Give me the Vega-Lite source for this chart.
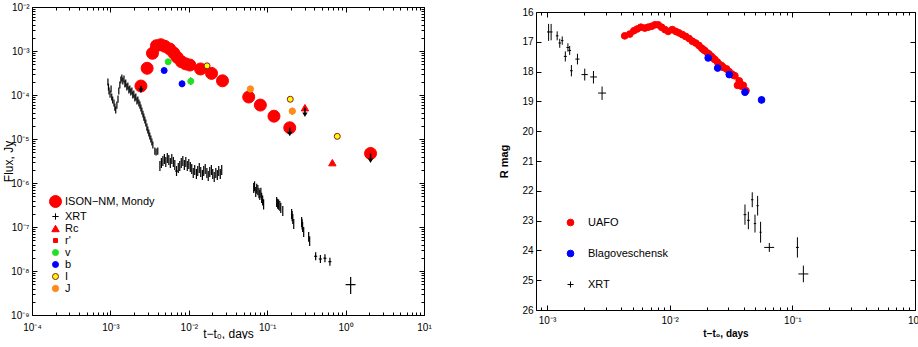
{
"$schema": "https://vega.github.io/schema/vega-lite/v6.json",
"padding": {"left": 2, "top": 2, "right": 0, "bottom": 0},
"bounds": "flush",
"center": true,
"spacing": 112,
"resolve": {"scale": {"shape": "independent", "fill": "independent", "stroke": "independent", "size": "independent"}, "legend": {"shape": "independent", "fill": "independent", "stroke": "independent", "size": "independent"}},
"config": {
  "view": {"stroke": null},
  "font": "Liberation Sans",
  "axis": {"grid": false, "domainColor": "#000", "domainWidth": 1, "tickColor": "#000", "tickWidth": 1, "labelColor": "#000", "labelFont": "Liberation Sans", "labelFontSize": 10, "titleColor": "#000", "titleFont": "Liberation Sans", "titleFontWeight": "normal", "titleFontSize": 12, "labelOverlap": false, "labelFlush": false, "labelBound": false},
  "legend": {"labelFont": "Liberation Sans", "labelColor": "#000", "symbolStrokeWidth": 1}
},
"datasets": {
  "xrtL": [
    {"t": 0.00093, "f": 0.000197, "lo": 0.000164, "hi": 0.000236},
    {"t": 0.000945, "f": 0.000152, "lo": 0.000126, "hi": 0.000182},
    {"t": 0.00096, "f": 0.000123, "lo": 0.000102, "hi": 0.000148},
    {"t": 0.00099, "f": 0.000105, "lo": 0.000087, "hi": 0.000126},
    {"t": 0.00102, "f": 0.000137, "lo": 0.000114, "hi": 0.000164},
    {"t": 0.00104, "f": 0.00009, "lo": 0.000075, "hi": 0.000108},
    {"t": 0.00107, "f": 0.000077, "lo": 0.000064, "hi": 0.000092},
    {"t": 0.00111, "f": 0.000066, "lo": 0.000055, "hi": 0.000079},
    {"t": 0.00114, "f": 0.000053, "lo": 0.000044, "hi": 0.000064},
    {"t": 0.00117, "f": 0.000046, "lo": 0.000038, "hi": 0.000055},
    {"t": 0.00121, "f": 0.000059, "lo": 0.000049, "hi": 0.000071},
    {"t": 0.00125, "f": 0.000081, "lo": 0.000067, "hi": 0.000097},
    {"t": 0.00128, "f": 0.000123, "lo": 0.000102, "hi": 0.000148},
    {"t": 0.00132, "f": 0.000169, "lo": 0.00014, "hi": 0.000203},
    {"t": 0.00136, "f": 0.000219, "lo": 0.000182, "hi": 0.000263},
    {"t": 0.0014, "f": 0.000243, "lo": 0.000202, "hi": 0.000292},
    {"t": 0.00144, "f": 0.000208, "lo": 0.000173, "hi": 0.00025},
    {"t": 0.00149, "f": 0.000231, "lo": 0.000192, "hi": 0.000277},
    {"t": 0.00153, "f": 0.000178, "lo": 0.000148, "hi": 0.000214},
    {"t": 0.00157, "f": 0.000187, "lo": 0.000155, "hi": 0.000224},
    {"t": 0.00162, "f": 0.000152, "lo": 0.000126, "hi": 0.000182},
    {"t": 0.00167, "f": 0.00016, "lo": 0.000133, "hi": 0.000192},
    {"t": 0.00172, "f": 0.00013, "lo": 0.000108, "hi": 0.000156},
    {"t": 0.00177, "f": 0.000137, "lo": 0.000114, "hi": 0.000164},
    {"t": 0.00182, "f": 0.000117, "lo": 0.000097, "hi": 0.00014},
    {"t": 0.00188, "f": 0.000123, "lo": 0.000102, "hi": 0.000148},
    {"t": 0.00193, "f": 0.0001, "lo": 0.000083, "hi": 0.00012},
    {"t": 0.00199, "f": 0.000105, "lo": 0.000087, "hi": 0.000126},
    {"t": 0.00205, "f": 0.0000855, "lo": 0.000071, "hi": 0.000103},
    {"t": 0.00211, "f": 0.00009, "lo": 0.000075, "hi": 0.000108},
    {"t": 0.00218, "f": 0.000073, "lo": 0.000061, "hi": 0.000088},
    {"t": 0.00224, "f": 0.000077, "lo": 0.000064, "hi": 0.000092},
    {"t": 0.00231, "f": 0.000066, "lo": 0.000055, "hi": 0.000079},
    {"t": 0.00238, "f": 0.000059, "lo": 0.000049, "hi": 0.000071},
    {"t": 0.00245, "f": 0.0000507, "lo": 0.000042, "hi": 0.000061},
    {"t": 0.00252, "f": 0.0000433, "lo": 0.000036, "hi": 0.000052},
    {"t": 0.0026, "f": 0.000037, "lo": 0.000031, "hi": 0.000044},
    {"t": 0.00267, "f": 0.0000316, "lo": 0.000026, "hi": 0.000038},
    {"t": 0.00275, "f": 0.000027, "lo": 0.0000224, "hi": 0.0000324},
    {"t": 0.00283, "f": 0.0000231, "lo": 0.0000192, "hi": 0.0000277},
    {"t": 0.00292, "f": 0.0000187, "lo": 0.0000155, "hi": 0.0000224},
    {"t": 0.003, "f": 0.000016, "lo": 0.0000133, "hi": 0.0000192},
    {"t": 0.00309, "f": 0.0000137, "lo": 0.0000114, "hi": 0.0000164},
    {"t": 0.00318, "f": 0.0000117, "lo": 0.0000097, "hi": 0.000014},
    {"t": 0.00328, "f": 0.00001, "lo": 0.0000083, "hi": 0.000012},
    {"t": 0.00338, "f": 0.0000085, "lo": 0.0000071, "hi": 0.0000102},
    {"t": 0.00348, "f": 0.0000073, "lo": 0.0000061, "hi": 0.0000088},
    {"t": 0.00369, "f": 0.0000053, "lo": 0.0000044, "hi": 0.0000064},
    {"t": 0.00383, "f": 0.0000051, "lo": 0.0000042, "hi": 0.0000061},
    {"t": 0.00402, "f": 0.0000053, "lo": 0.0000044, "hi": 0.0000064},
    {"t": 0.00428, "f": 0.00000243, "lo": 0.00000187, "hi": 0.00000316},
    {"t": 0.00447, "f": 0.00000285, "lo": 0.00000219, "hi": 0.0000037},
    {"t": 0.00467, "f": 0.00000316, "lo": 0.00000243, "hi": 0.0000041},
    {"t": 0.00488, "f": 0.0000035, "lo": 0.0000027, "hi": 0.00000455},
    {"t": 0.00509, "f": 0.000003, "lo": 0.00000231, "hi": 0.0000039},
    {"t": 0.00532, "f": 0.0000037, "lo": 0.00000285, "hi": 0.0000048},
    {"t": 0.00556, "f": 0.00000333, "lo": 0.00000256, "hi": 0.00000433},
    {"t": 0.00581, "f": 0.00000285, "lo": 0.00000219, "hi": 0.0000037},
    {"t": 0.00607, "f": 0.0000035, "lo": 0.0000027, "hi": 0.00000455},
    {"t": 0.00635, "f": 0.000003, "lo": 0.00000231, "hi": 0.0000039},
    {"t": 0.00663, "f": 0.00000256, "lo": 0.00000197, "hi": 0.00000333},
    {"t": 0.00697, "f": 0.00000187, "lo": 0.00000144, "hi": 0.00000243, "tl": 0.00665, "th": 0.0073},
    {"t": 0.00734, "f": 0.00000219, "lo": 0.00000169, "hi": 0.00000285},
    {"t": 0.00767, "f": 0.00000243, "lo": 0.00000187, "hi": 0.00000316},
    {"t": 0.00801, "f": 0.00000285, "lo": 0.00000219, "hi": 0.0000037},
    {"t": 0.00839, "f": 0.00000316, "lo": 0.00000243, "hi": 0.0000041},
    {"t": 0.00877, "f": 0.00000256, "lo": 0.00000197, "hi": 0.00000333},
    {"t": 0.00916, "f": 0.000003, "lo": 0.00000231, "hi": 0.0000039},
    {"t": 0.00957, "f": 0.00000243, "lo": 0.00000187, "hi": 0.00000316},
    {"t": 0.01, "f": 0.0000027, "lo": 0.00000208, "hi": 0.0000035},
    {"t": 0.01045, "f": 0.00000231, "lo": 0.00000178, "hi": 0.000003},
    {"t": 0.0109, "f": 0.00000208, "lo": 0.0000016, "hi": 0.0000027},
    {"t": 0.0114, "f": 0.00000169, "lo": 0.0000013, "hi": 0.0000022},
    {"t": 0.0119, "f": 0.00000197, "lo": 0.00000152, "hi": 0.00000256},
    {"t": 0.0125, "f": 0.0000016, "lo": 0.00000123, "hi": 0.00000208},
    {"t": 0.013, "f": 0.00000187, "lo": 0.00000144, "hi": 0.00000243},
    {"t": 0.0136, "f": 0.00000219, "lo": 0.00000169, "hi": 0.00000285},
    {"t": 0.0142, "f": 0.00000178, "lo": 0.00000137, "hi": 0.00000231},
    {"t": 0.0149, "f": 0.00000152, "lo": 0.00000117, "hi": 0.00000197},
    {"t": 0.0155, "f": 0.00000187, "lo": 0.00000144, "hi": 0.00000243},
    {"t": 0.0162, "f": 0.00000208, "lo": 0.0000016, "hi": 0.0000027},
    {"t": 0.017, "f": 0.00000169, "lo": 0.0000013, "hi": 0.0000022},
    {"t": 0.0177, "f": 0.00000144, "lo": 0.00000111, "hi": 0.00000187},
    {"t": 0.0185, "f": 0.00000178, "lo": 0.00000137, "hi": 0.00000231},
    {"t": 0.0194, "f": 0.00000197, "lo": 0.00000152, "hi": 0.00000256},
    {"t": 0.0202, "f": 0.0000016, "lo": 0.00000123, "hi": 0.00000208},
    {"t": 0.0211, "f": 0.00000137, "lo": 0.00000105, "hi": 0.00000178},
    {"t": 0.0221, "f": 0.00000169, "lo": 0.0000013, "hi": 0.0000022},
    {"t": 0.0231, "f": 0.00000152, "lo": 0.00000117, "hi": 0.00000197},
    {"t": 0.0241, "f": 0.00000187, "lo": 0.00000144, "hi": 0.00000243},
    {"t": 0.0252, "f": 0.0000016, "lo": 0.00000123, "hi": 0.00000208},
    {"t": 0.0263, "f": 0.00000197, "lo": 0.00000152, "hi": 0.00000256},
    {"t": 0.0673, "f": 0.00000077, "lo": 0.00000059, "hi": 0.000001},
    {"t": 0.069, "f": 0.00000084, "lo": 0.00000065, "hi": 0.00000109},
    {"t": 0.0714, "f": 0.00000062, "lo": 0.00000048, "hi": 0.00000081},
    {"t": 0.0735, "f": 0.00000074, "lo": 0.00000057, "hi": 0.00000096},
    {"t": 0.076, "f": 0.00000069, "lo": 0.00000053, "hi": 0.0000009},
    {"t": 0.0785, "f": 0.00000059, "lo": 0.00000045, "hi": 0.00000077},
    {"t": 0.0805, "f": 0.00000053, "lo": 0.00000041, "hi": 0.00000069},
    {"t": 0.083, "f": 0.0000006, "lo": 0.00000046, "hi": 0.00000078},
    {"t": 0.085, "f": 0.00000046, "lo": 0.00000035, "hi": 0.0000006},
    {"t": 0.0875, "f": 0.0000004, "lo": 0.00000031, "hi": 0.00000052},
    {"t": 0.09, "f": 0.00000033, "lo": 0.00000025, "hi": 0.00000043},
    {"t": 0.132, "f": 0.00000037, "lo": 0.000000285, "hi": 0.00000048},
    {"t": 0.136, "f": 0.00000034, "lo": 0.00000026, "hi": 0.00000044},
    {"t": 0.14, "f": 0.00000032, "lo": 0.000000246, "hi": 0.00000042},
    {"t": 0.145, "f": 0.0000003, "lo": 0.00000023, "hi": 0.00000039},
    {"t": 0.149, "f": 0.00000027, "lo": 0.000000208, "hi": 0.00000035},
    {"t": 0.158, "f": 0.00000023, "lo": 0.000000177, "hi": 0.0000003},
    {"t": 0.205, "f": 0.000000197, "lo": 0.000000152, "hi": 0.000000256},
    {"t": 0.208, "f": 0.000000175, "lo": 0.000000135, "hi": 0.00000023},
    {"t": 0.212, "f": 0.000000152, "lo": 0.000000117, "hi": 0.000000198},
    {"t": 0.218, "f": 0.000000117, "lo": 0.00000009, "hi": 0.000000152},
    {"t": 0.275, "f": 0.00000013, "lo": 0.0000001, "hi": 0.000000169},
    {"t": 0.279, "f": 0.000000115, "lo": 0.000000088, "hi": 0.00000015},
    {"t": 0.283, "f": 0.0000001, "lo": 0.000000077, "hi": 0.00000013},
    {"t": 0.292, "f": 0.000000077, "lo": 0.000000059, "hi": 0.0000001},
    {"t": 0.338, "f": 0.000000059, "lo": 0.000000046, "hi": 0.000000077},
    {"t": 0.348, "f": 0.000000048, "lo": 0.000000037, "hi": 0.000000062},
    {"t": 0.415, "f": 0.0000000216, "lo": 0.0000000175, "hi": 0.0000000266, "tl": 0.397, "th": 0.434},
    {"t": 0.477, "f": 0.0000000187, "lo": 0.0000000152, "hi": 0.000000023, "tl": 0.456, "th": 0.498},
    {"t": 0.545, "f": 0.0000000195, "lo": 0.0000000158, "hi": 0.000000024, "tl": 0.521, "th": 0.569},
    {"t": 0.631, "f": 0.0000000163, "lo": 0.0000000132, "hi": 0.00000002, "tl": 0.603, "th": 0.659},
    {"t": 1.16, "f": 0.0000000049, "lo": 0.000000003, "hi": 0.0000000073, "tl": 1.0, "th": 1.34}
  ],
  "optL": [
    {"t": 0.00245, "f": 0.00016, "s": "ISON−NM, Mondy"},
    {"t": 0.00294, "f": 0.000405, "s": "ISON−NM, Mondy"},
    {"t": 0.00344, "f": 0.000887, "s": "ISON−NM, Mondy"},
    {"t": 0.00387, "f": 0.00132, "s": "ISON−NM, Mondy"},
    {"t": 0.0044, "f": 0.00139, "s": "ISON−NM, Mondy"},
    {"t": 0.00494, "f": 0.00128, "s": "ISON−NM, Mondy"},
    {"t": 0.00572, "f": 0.00111, "s": "ISON−NM, Mondy"},
    {"t": 0.00644, "f": 0.0009, "s": "ISON−NM, Mondy"},
    {"t": 0.0071, "f": 0.00072, "s": "ISON−NM, Mondy"},
    {"t": 0.00807, "f": 0.00057, "s": "ISON−NM, Mondy"},
    {"t": 0.0091, "f": 0.00051, "s": "ISON−NM, Mondy"},
    {"t": 0.0103, "f": 0.00048, "s": "ISON−NM, Mondy"},
    {"t": 0.0141, "f": 0.00039, "s": "ISON−NM, Mondy"},
    {"t": 0.0195, "f": 0.00031, "s": "ISON−NM, Mondy"},
    {"t": 0.0269, "f": 0.00021, "s": "ISON−NM, Mondy"},
    {"t": 0.0581, "f": 0.00009, "s": "ISON−NM, Mondy"},
    {"t": 0.0818, "f": 0.000059, "s": "ISON−NM, Mondy"},
    {"t": 0.122, "f": 0.000033, "s": "ISON−NM, Mondy"},
    {"t": 0.194, "f": 0.000018, "s": "ISON−NM, Mondy"},
    {"t": 2.08, "f": 0.0000047, "s": "ISON−NM, Mondy"},
    {"t": 0.303, "f": 0.0000515, "s": "Rc"},
    {"t": 0.678, "f": 0.0000029, "s": "Rc"},
    {"t": 0.00546, "f": 0.00057, "s": "v"},
    {"t": 0.0106, "f": 0.000205, "s": "v"},
    {"t": 0.00485, "f": 0.00036, "s": "b"},
    {"t": 0.0082, "f": 0.00018, "s": "b"},
    {"t": 0.061, "f": 0.000137, "s": "J"},
    {"t": 0.209, "f": 0.000043, "s": "J"},
    {"t": 0.0171, "f": 0.00046, "s": "I"},
    {"t": 0.197, "f": 0.00008, "s": "I"},
    {"t": 0.783, "f": 0.0000115, "s": "I"}
  ],
  "errL": [
    {"t": 0.0106, "lo": 0.00017, "hi": 0.00025},
    {"t": 0.0082, "lo": 0.00015, "hi": 0.00021},
    {"t": 0.209, "lo": 0.000036, "hi": 0.000051}
  ],
  "limL": [
    {"t": 0.00245, "f": 0.00016, "fa": 0.000125},
    {"t": 0.194, "f": 0.000018, "fa": 0.000013},
    {"t": 2.08, "f": 0.0000047, "fa": 0.0000032},
    {"t": 0.303, "f": 0.0000515, "fa": 0.0000356}
  ],
  "xrtR": [
    {"t": 0.00103, "m": 16.67, "lo": 16.4, "hi": 16.97, "tl": 0.001, "th": 0.00106},
    {"t": 0.00108, "m": 16.67, "lo": 16.4, "hi": 16.95, "tl": 0.00105, "th": 0.00111},
    {"t": 0.00121, "m": 16.8, "lo": 16.65, "hi": 16.95, "tl": 0.00118, "th": 0.00124},
    {"t": 0.00127, "m": 17.04, "lo": 16.9, "hi": 17.2, "tl": 0.00124, "th": 0.0013},
    {"t": 0.00133, "m": 16.96, "lo": 16.82, "hi": 17.1, "tl": 0.0013, "th": 0.00136},
    {"t": 0.00141, "m": 17.49, "lo": 17.32, "hi": 17.66, "tl": 0.00137, "th": 0.00145},
    {"t": 0.00148, "m": 17.19, "lo": 17.05, "hi": 17.33, "tl": 0.00144, "th": 0.00152},
    {"t": 0.00153, "m": 17.29, "lo": 17.14, "hi": 17.44, "tl": 0.00149, "th": 0.00157},
    {"t": 0.00158, "m": 17.97, "lo": 17.78, "hi": 18.16, "tl": 0.00154, "th": 0.00162},
    {"t": 0.00177, "m": 17.58, "lo": 17.4, "hi": 17.76, "tl": 0.0017, "th": 0.00184},
    {"t": 0.00203, "m": 18.1, "lo": 17.9, "hi": 18.3, "tl": 0.00191, "th": 0.00215},
    {"t": 0.00239, "m": 18.18, "lo": 17.98, "hi": 18.4, "tl": 0.00225, "th": 0.00255},
    {"t": 0.00281, "m": 18.72, "lo": 18.5, "hi": 18.95, "tl": 0.00261, "th": 0.00303},
    {"t": 0.0411, "m": 22.8, "lo": 22.46, "hi": 23.14, "tl": 0.04, "th": 0.0422},
    {"t": 0.0438, "m": 22.99, "lo": 22.7, "hi": 23.29, "tl": 0.0427, "th": 0.045},
    {"t": 0.0471, "m": 22.3, "lo": 22.05, "hi": 22.55, "tl": 0.046, "th": 0.0482},
    {"t": 0.0496, "m": 23.1, "lo": 22.8, "hi": 23.4, "tl": 0.0485, "th": 0.0507},
    {"t": 0.0521, "m": 22.5, "lo": 22.17, "hi": 22.83, "tl": 0.051, "th": 0.0532},
    {"t": 0.0551, "m": 23.39, "lo": 23.04, "hi": 23.74, "tl": 0.054, "th": 0.0562},
    {"t": 0.0649, "m": 23.9, "lo": 23.75, "hi": 24.05, "tl": 0.059, "th": 0.071},
    {"t": 0.11, "m": 23.9, "lo": 23.56, "hi": 24.24, "tl": 0.107, "th": 0.113},
    {"t": 0.123, "m": 24.79, "lo": 24.51, "hi": 25.07, "tl": 0.112, "th": 0.135}
  ],
  "optR": [
    {"t": 0.0043, "m": 16.8, "s": "UAFO"},
    {"t": 0.00473, "m": 16.74, "s": "UAFO"},
    {"t": 0.0051, "m": 16.63, "s": "UAFO"},
    {"t": 0.00543, "m": 16.57, "s": "UAFO"},
    {"t": 0.00582, "m": 16.51, "s": "UAFO"},
    {"t": 0.00627, "m": 16.54, "s": "UAFO"},
    {"t": 0.00667, "m": 16.51, "s": "UAFO"},
    {"t": 0.00711, "m": 16.48, "s": "UAFO"},
    {"t": 0.00757, "m": 16.43, "s": "UAFO"},
    {"t": 0.00806, "m": 16.43, "s": "UAFO"},
    {"t": 0.00858, "m": 16.51, "s": "UAFO"},
    {"t": 0.00914, "m": 16.59, "s": "UAFO"},
    {"t": 0.00973, "m": 16.65, "s": "UAFO"},
    {"t": 0.0105, "m": 16.59, "s": "UAFO"},
    {"t": 0.0112, "m": 16.65, "s": "UAFO"},
    {"t": 0.0119, "m": 16.7, "s": "UAFO"},
    {"t": 0.0127, "m": 16.76, "s": "UAFO"},
    {"t": 0.0135, "m": 16.82, "s": "UAFO"},
    {"t": 0.0144, "m": 16.89, "s": "UAFO"},
    {"t": 0.0153, "m": 16.98, "s": "UAFO"},
    {"t": 0.0163, "m": 17.04, "s": "UAFO"},
    {"t": 0.0173, "m": 17.12, "s": "UAFO"},
    {"t": 0.0182, "m": 17.21, "s": "UAFO"},
    {"t": 0.0188, "m": 17.26, "s": "UAFO"},
    {"t": 0.0194, "m": 17.3, "s": "UAFO"},
    {"t": 0.0204, "m": 17.38, "s": "UAFO"},
    {"t": 0.021, "m": 17.42, "s": "UAFO"},
    {"t": 0.0219, "m": 17.49, "s": "UAFO"},
    {"t": 0.0226, "m": 17.55, "s": "UAFO"},
    {"t": 0.0234, "m": 17.6, "s": "UAFO"},
    {"t": 0.0245, "m": 17.68, "s": "UAFO"},
    {"t": 0.0257, "m": 17.77, "s": "UAFO"},
    {"t": 0.0265, "m": 17.8, "s": "UAFO"},
    {"t": 0.0274, "m": 17.86, "s": "UAFO"},
    {"t": 0.0291, "m": 17.91, "s": "UAFO"},
    {"t": 0.0305, "m": 18.0, "s": "UAFO"},
    {"t": 0.032, "m": 18.08, "s": "UAFO"},
    {"t": 0.033, "m": 18.12, "s": "UAFO"},
    {"t": 0.034, "m": 18.14, "s": "UAFO"},
    {"t": 0.0357, "m": 18.46, "s": "UAFO"},
    {"t": 0.0369, "m": 18.31, "s": "UAFO"},
    {"t": 0.0375, "m": 18.4, "s": "UAFO"},
    {"t": 0.0385, "m": 18.49, "s": "UAFO"},
    {"t": 0.0398, "m": 18.46, "s": "UAFO"},
    {"t": 0.0419, "m": 18.64, "s": "UAFO"},
    {"t": 0.0206, "m": 17.54, "s": "Blagoveschensk"},
    {"t": 0.0246, "m": 17.88, "s": "Blagoveschensk"},
    {"t": 0.0306, "m": 18.1, "s": "Blagoveschensk"},
    {"t": 0.0411, "m": 18.69, "s": "Blagoveschensk"},
    {"t": 0.0561, "m": 18.95, "s": "Blagoveschensk"}
  ],
  "errR": [
    {"t": 0.0206, "lo": 17.44, "hi": 17.64},
    {"t": 0.0246, "lo": 17.78, "hi": 17.98},
    {"t": 0.0306, "lo": 18.0, "hi": 18.2},
    {"t": 0.0411, "lo": 18.57, "hi": 18.81},
    {"t": 0.0561, "lo": 18.83, "hi": 19.07}
  ]
},
"hconcat": [
  {
    "width": 392,
    "height": 308,
    "resolve": {"axis": {"x": "independent", "y": "independent"}},
    "layer": [
      {
        "data": {"name": "xrtL"},
        "mark": {"type": "rule", "color": "#000", "strokeWidth": 1.2},
        "encoding": {
          "x": {"field": "t", "type": "quantitative", "scale": {"type": "log", "domain": [0.0001, 10], "nice": false},
                "axis": {"orient": "bottom", "values": [0.0001, 0.001, 0.01, 0.1, 1, 10], "tickSize": -5, "labelPadding": 12, "title": "t−t₀, days", "titlePadding": -4,
                         "labelExpr": "'10' + (datum.value < 1 ? '⁻' : '') + substring('⁰¹²³⁴⁵⁶⁷⁸⁹', abs(round(log(datum.value)/LN10)), abs(round(log(datum.value)/LN10)) + 1)"}},
          "y": {"field": "lo", "type": "quantitative", "scale": {"type": "log", "domain": [1e-9, 0.01], "nice": false},
                "axis": {"orient": "left", "values": [1e-9, 1e-8, 1e-7, 1e-6, 1e-5, 0.0001, 0.001, 0.01], "tickSize": -5, "labelPadding": 8, "title": "Flux, Jy", "titlePadding": -5,
                         "labelExpr": "'10' + (datum.value < 1 ? '⁻' : '') + substring('⁰¹²³⁴⁵⁶⁷⁸⁹', abs(round(log(datum.value)/LN10)), abs(round(log(datum.value)/LN10)) + 1)"}},
          "y2": {"field": "hi"}
        }
      },
      {
        "data": {"name": "xrtL"},
        "transform": [{"filter": "isValid(datum.tl)"}],
        "mark": {"type": "rule", "color": "#000", "strokeWidth": 1.2},
        "encoding": {
          "x": {"field": "tl", "type": "quantitative", "scale": {"type": "log", "domain": [0.0001, 10], "nice": false},
                "axis": {"orient": "bottom", "values": [0.0002, 0.0003, 0.0004, 0.0005, 0.0006, 0.0007, 0.0008, 0.0009, 0.002, 0.003, 0.004, 0.005, 0.006, 0.007, 0.008, 0.009, 0.02, 0.03, 0.04, 0.05, 0.06, 0.07, 0.08, 0.09, 0.2, 0.3, 0.4, 0.5, 0.6, 0.7, 0.8, 0.9, 2, 3, 4, 5, 6, 7, 8, 9], "tickSize": -3, "labels": false, "domain": false, "title": null}},
          "x2": {"field": "th"},
          "y": {"field": "f", "type": "quantitative", "scale": {"type": "log", "domain": [1e-9, 0.01], "nice": false},
                "axis": {"orient": "left", "values": [2e-9, 3e-9, 4e-9, 5e-9, 6e-9, 7e-9, 8e-9, 9e-9, 2e-8, 3e-8, 4e-8, 5e-8, 6e-8, 7e-8, 8e-8, 9e-8, 2e-7, 3e-7, 4e-7, 5e-7, 6e-7, 7e-7, 8e-7, 9e-7, 2e-6, 3e-6, 4e-6, 5e-6, 6e-6, 7e-6, 8e-6, 9e-6, 2e-5, 3e-5, 4e-5, 5e-5, 6e-5, 7e-5, 8e-5, 9e-5, 0.0002, 0.0003, 0.0004, 0.0005, 0.0006, 0.0007, 0.0008, 0.0009, 0.002, 0.003, 0.004, 0.005, 0.006, 0.007, 0.008, 0.009], "tickSize": -3, "labels": false, "domain": false, "title": null}}
        }
      },
      {
        "data": {"name": "errL"},
        "mark": {"type": "rule", "color": "#000", "strokeWidth": 1},
        "encoding": {
          "x": {"field": "t", "type": "quantitative", "scale": {"type": "log", "domain": [0.0001, 10], "nice": false},
                "axis": {"orient": "top", "values": [0.0001, 0.001, 0.01, 0.1, 1, 10], "tickSize": -5, "labels": false, "title": null}},
          "y": {"field": "lo", "type": "quantitative", "scale": {"type": "log", "domain": [1e-9, 0.01], "nice": false},
                "axis": {"orient": "right", "values": [1e-9, 1e-8, 1e-7, 1e-6, 1e-5, 0.0001, 0.001, 0.01], "tickSize": -5, "labels": false, "title": null}},
          "y2": {"field": "hi"}
        }
      },
      {
        "data": {"name": "optL"},
        "mark": {"type": "point", "opacity": 1, "strokeWidth": 1},
        "encoding": {
          "x": {"field": "t", "type": "quantitative", "scale": {"type": "log", "domain": [0.0001, 10], "nice": false},
                "axis": {"orient": "top", "values": [0.0002, 0.0003, 0.0004, 0.0005, 0.0006, 0.0007, 0.0008, 0.0009, 0.002, 0.003, 0.004, 0.005, 0.006, 0.007, 0.008, 0.009, 0.02, 0.03, 0.04, 0.05, 0.06, 0.07, 0.08, 0.09, 0.2, 0.3, 0.4, 0.5, 0.6, 0.7, 0.8, 0.9, 2, 3, 4, 5, 6, 7, 8, 9], "tickSize": -3, "labels": false, "domain": false, "title": null}},
          "y": {"field": "f", "type": "quantitative", "scale": {"type": "log", "domain": [1e-9, 0.01], "nice": false},
                "axis": {"orient": "right", "values": [2e-9, 3e-9, 4e-9, 5e-9, 6e-9, 7e-9, 8e-9, 9e-9, 2e-8, 3e-8, 4e-8, 5e-8, 6e-8, 7e-8, 8e-8, 9e-8, 2e-7, 3e-7, 4e-7, 5e-7, 6e-7, 7e-7, 8e-7, 9e-7, 2e-6, 3e-6, 4e-6, 5e-6, 6e-6, 7e-6, 8e-6, 9e-6, 2e-5, 3e-5, 4e-5, 5e-5, 6e-5, 7e-5, 8e-5, 9e-5, 0.0002, 0.0003, 0.0004, 0.0005, 0.0006, 0.0007, 0.0008, 0.0009, 0.002, 0.003, 0.004, 0.005, 0.006, 0.007, 0.008, 0.009], "tickSize": -3, "labels": false, "domain": false, "title": null}},
          "shape": {"field": "s", "type": "nominal", "scale": {"type": "ordinal", "domain": ["ISON−NM, Mondy", "XRT", "Rc", "r'", "v", "b", "I", "J"], "range": ["circle", "M-1,0L1,0M0,-1L0,1", "triangle-up", "square", "circle", "circle", "circle", "circle"]},
                    "legend": {"orient": "none", "legendX": 17, "legendY": 188, "title": null, "labelFontSize": 11, "rowPadding": 0, "labelOffset": 3, "padding": 0}},
          "fill": {"field": "s", "type": "nominal", "scale": {"type": "ordinal", "domain": ["ISON−NM, Mondy", "XRT", "Rc", "r'", "v", "b", "I", "J"], "range": ["#ff0000", "transparent", "#ff0000", "#ff0000", "#22e022", "#0000ff", "#ffff00", "#ff8c1a"]},
                   "legend": {"orient": "none", "legendX": 17, "legendY": 188, "title": null, "labelFontSize": 11, "rowPadding": 0, "labelOffset": 3, "padding": 0}},
          "stroke": {"field": "s", "type": "nominal", "scale": {"type": "ordinal", "domain": ["ISON−NM, Mondy", "XRT", "Rc", "r'", "v", "b", "I", "J"], "range": ["#ff0000", "#000000", "#ff0000", "#ff0000", "#22e022", "#0000ff", "#8b1a1a", "#ff8c1a"]},
                     "legend": {"orient": "none", "legendX": 17, "legendY": 188, "title": null, "labelFontSize": 11, "rowPadding": 0, "labelOffset": 3, "padding": 0}},
          "size": {"field": "s", "type": "nominal", "scale": {"type": "ordinal", "domain": ["ISON−NM, Mondy", "XRT", "Rc", "r'", "v", "b", "I", "J"], "range": [144, 40, 55, 16, 36, 36, 36, 40]},
                   "legend": {"orient": "none", "legendX": 17, "legendY": 188, "title": null, "labelFontSize": 11, "rowPadding": 0, "labelOffset": 3, "padding": 0}}
        }
      },
      {
        "data": {"name": "limL"},
        "mark": {"type": "rule", "color": "#000", "strokeWidth": 1.5},
        "encoding": {
          "x": {"field": "t", "type": "quantitative", "scale": {"type": "log", "domain": [0.0001, 10], "nice": false}, "axis": null},
          "y": {"field": "f", "type": "quantitative", "scale": {"type": "log", "domain": [1e-9, 0.01], "nice": false}, "axis": null},
          "y2": {"field": "fa"}
        }
      },
      {
        "data": {"name": "limL"},
        "mark": {"type": "point", "shape": "triangle-down", "filled": true, "color": "#000", "opacity": 1, "size": 28},
        "encoding": {
          "x": {"field": "t", "type": "quantitative", "scale": {"type": "log", "domain": [0.0001, 10], "nice": false}, "axis": null},
          "y": {"field": "fa", "type": "quantitative", "scale": {"type": "log", "domain": [1e-9, 0.01], "nice": false}, "axis": null}
        }
      }
    ]
  },
  {
    "width": 379,
    "height": 298,
    "resolve": {"axis": {"x": "independent", "y": "independent"}},
    "layer": [
      {
        "data": {"name": "xrtR"},
        "mark": {"type": "rule", "color": "#000", "strokeWidth": 1},
        "encoding": {
          "x": {"field": "t", "type": "quantitative", "scale": {"type": "log", "domain": [0.000813, 1], "nice": false},
                "axis": {"orient": "bottom", "values": [0.001, 0.01, 0.1, 1], "tickSize": -5, "labelPadding": 10, "title": "t−t₀, days", "titleFontWeight": "bold", "titleFontSize": 10, "titlePadding": 3,
                         "labelExpr": "'10' + (datum.value < 1 ? '⁻' : '') + substring('⁰¹²³⁴⁵⁶⁷⁸⁹', abs(round(log(datum.value)/LN10)), abs(round(log(datum.value)/LN10)) + 1)"}},
          "y": {"field": "lo", "type": "quantitative", "scale": {"domain": [16, 26], "reverse": true, "nice": false, "zero": false},
                "axis": {"orient": "left", "values": [16, 17, 18, 19, 20, 21, 22, 23, 24, 25, 26], "tickSize": -5, "labelPadding": 8, "title": "R mag", "titleFontWeight": "bold", "titleFontSize": 11, "titlePadding": 12}},
          "y2": {"field": "hi"}
        }
      },
      {
        "data": {"name": "xrtR"},
        "mark": {"type": "rule", "color": "#000", "strokeWidth": 1},
        "encoding": {
          "x": {"field": "tl", "type": "quantitative", "scale": {"type": "log", "domain": [0.000813, 1], "nice": false},
                "axis": {"orient": "bottom", "values": [0.0009, 0.002, 0.003, 0.004, 0.005, 0.006, 0.007, 0.008, 0.009, 0.02, 0.03, 0.04, 0.05, 0.06, 0.07, 0.08, 0.09, 0.2, 0.3, 0.4, 0.5, 0.6, 0.7, 0.8, 0.9], "tickSize": -3, "labels": false, "domain": false, "title": null}},
          "x2": {"field": "th"},
          "y": {"field": "m", "type": "quantitative", "scale": {"domain": [16, 26], "reverse": true, "nice": false, "zero": false},
                "axis": {"orient": "right", "values": [16, 17, 18, 19, 20, 21, 22, 23, 24, 25, 26], "tickSize": -5, "labels": false, "title": null}}
        }
      },
      {
        "data": {"name": "errR"},
        "mark": {"type": "rule", "color": "#000", "strokeWidth": 1},
        "encoding": {
          "x": {"field": "t", "type": "quantitative", "scale": {"type": "log", "domain": [0.000813, 1], "nice": false},
                "axis": {"orient": "top", "values": [0.001, 0.01, 0.1, 1], "tickSize": -5, "labels": false, "title": null}},
          "y": {"field": "lo", "type": "quantitative", "scale": {"domain": [16, 26], "reverse": true, "nice": false, "zero": false}, "axis": null},
          "y2": {"field": "hi"}
        }
      },
      {
        "data": {"name": "optR"},
        "mark": {"type": "point", "opacity": 1, "strokeWidth": 1},
        "encoding": {
          "x": {"field": "t", "type": "quantitative", "scale": {"type": "log", "domain": [0.000813, 1], "nice": false},
                "axis": {"orient": "top", "values": [0.0009, 0.002, 0.003, 0.004, 0.005, 0.006, 0.007, 0.008, 0.009, 0.02, 0.03, 0.04, 0.05, 0.06, 0.07, 0.08, 0.09, 0.2, 0.3, 0.4, 0.5, 0.6, 0.7, 0.8, 0.9], "tickSize": -3, "labels": false, "domain": false, "title": null}},
          "y": {"field": "m", "type": "quantitative", "scale": {"domain": [16, 26], "reverse": true, "nice": false, "zero": false}, "axis": null},
          "shape": {"field": "s", "type": "nominal", "scale": {"type": "ordinal", "domain": ["UAFO", "Blagoveschensk", "XRT"], "range": ["circle", "circle", "M-1,0L1,0M0,-1L0,1"]},
                    "legend": {"orient": "none", "legendX": 29, "legendY": 205, "title": null, "labelFontSize": 11, "rowPadding": 19, "labelOffset": 12, "padding": 0}},
          "fill": {"field": "s", "type": "nominal", "scale": {"type": "ordinal", "domain": ["UAFO", "Blagoveschensk", "XRT"], "range": ["#ff0000", "#0000ff", "transparent"]},
                   "legend": {"orient": "none", "legendX": 29, "legendY": 205, "title": null, "labelFontSize": 11, "rowPadding": 19, "labelOffset": 12, "padding": 0}},
          "stroke": {"field": "s", "type": "nominal", "scale": {"type": "ordinal", "domain": ["UAFO", "Blagoveschensk", "XRT"], "range": ["#ff0000", "#0000ff", "#000000"]},
                     "legend": {"orient": "none", "legendX": 29, "legendY": 205, "title": null, "labelFontSize": 11, "rowPadding": 19, "labelOffset": 12, "padding": 0}},
          "size": {"field": "s", "type": "nominal", "scale": {"type": "ordinal", "domain": ["UAFO", "Blagoveschensk", "XRT"], "range": [45, 45, 36]},
                   "legend": {"orient": "none", "legendX": 29, "legendY": 205, "title": null, "labelFontSize": 11, "rowPadding": 19, "labelOffset": 12, "padding": 0}}
        }
      }
    ]
  }
]
}
